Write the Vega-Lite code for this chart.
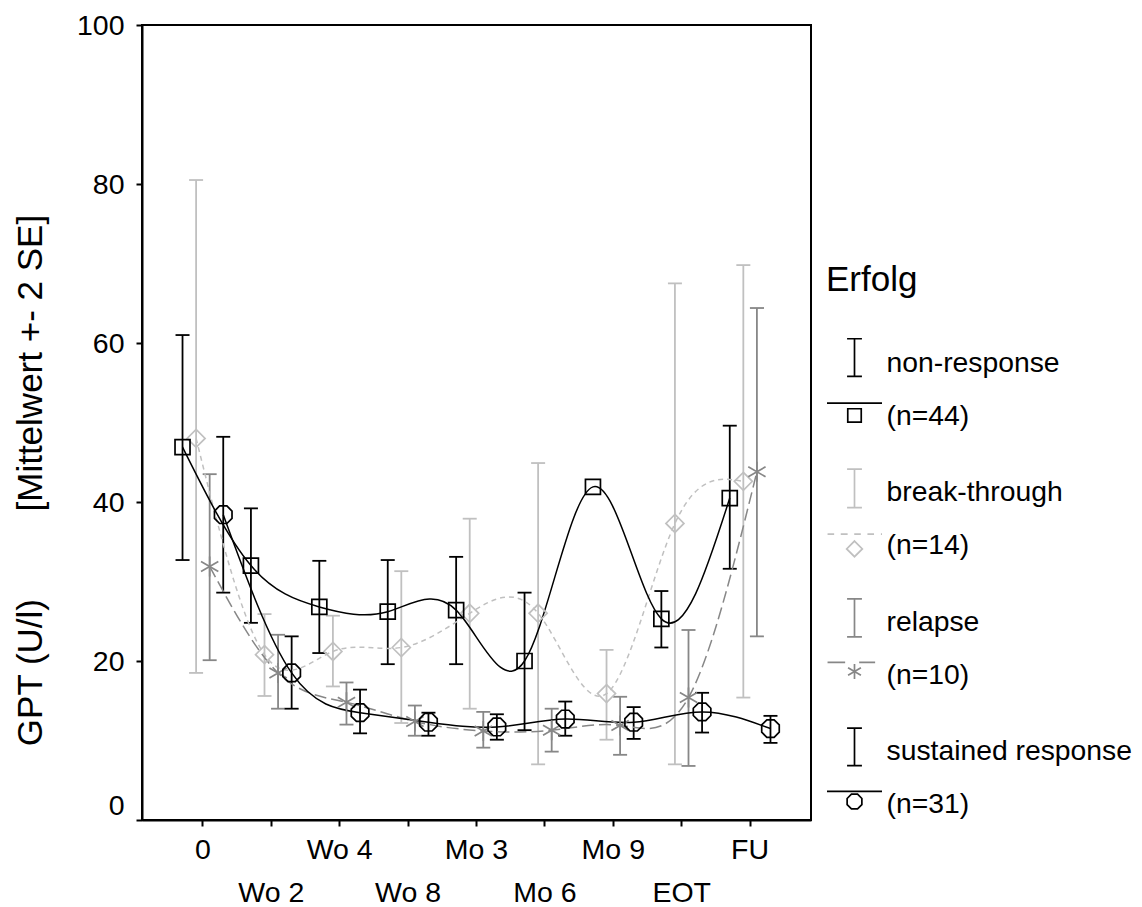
{
  "$schema": "https://vega.github.io/schema/vega-lite/v6.json",
  "width": 669,
  "height": 795,
  "autosize": "none",
  "padding": {"left": 142, "top": 25, "right": 331, "bottom": 87},
  "background": "white",
  "config": {
    "font": "Liberation Sans",
    "view": {"stroke": "black", "strokeWidth": 2},
    "style": {"guide-label": {"lineHeight": 53.7}},
    "axis": {
      "domainColor": "black", "domainWidth": 2, "tickColor": "black", "tickWidth": 2, "tickSize": 6,
      "labelColor": "black", "grid": false, "labelFont": "Liberation Sans", "titleFont": "Liberation Sans",
      "titleColor": "black", "titleFontWeight": "normal"
    },
    "legend": {
      "labelFont": "Liberation Sans", "titleFont": "Liberation Sans",
      "title": "Erfolg", "orient": "none", "legendX": 684, "legendY": 238, "padding": 0,
      "titleFontSize": 35, "titleFontWeight": "normal", "titleColor": "black", "titlePadding": 37,
      "labelFontSize": 28.3, "labelColor": "black", "labelLimit": 400, "labelOffset": 3.5,
      "rowPadding": 33, "symbolSize": 3025, "symbolStrokeWidth": 1.7
    }
  },
  "data": {
    "values": [
      {"time": "0", "group": "break-through", "mean": 48.0, "lo": 18.5, "hi": 80.5},
      {"time": "Wo 2", "group": "break-through", "mean": 20.8, "lo": 15.6, "hi": 25.9},
      {"time": "Wo 4", "group": "break-through", "mean": 21.2, "lo": 16.8, "hi": 25.7},
      {"time": "Wo 8", "group": "break-through", "mean": 21.7, "lo": 12.2, "hi": 31.3},
      {"time": "Mo 3", "group": "break-through", "mean": 26.0, "lo": 14.0, "hi": 37.9},
      {"time": "Mo 6", "group": "break-through", "mean": 26.0, "lo": 7.0, "hi": 44.9},
      {"time": "Mo 9", "group": "break-through", "mean": 15.9, "lo": 10.1, "hi": 21.4},
      {"time": "EOT", "group": "break-through", "mean": 37.3, "lo": 7.0, "hi": 67.5},
      {"time": "FU", "group": "break-through", "mean": 42.6, "lo": 15.4, "hi": 69.8},
      {"time": "0", "group": "relapse", "mean": 31.9, "lo": 20.1, "hi": 43.5},
      {"time": "Wo 2", "group": "relapse", "mean": 18.5, "lo": 14.0, "hi": 23.3},
      {"time": "Wo 4", "group": "relapse", "mean": 14.8, "lo": 12.0, "hi": 17.3},
      {"time": "Wo 8", "group": "relapse", "mean": 12.4, "lo": 10.6, "hi": 14.4},
      {"time": "Mo 3", "group": "relapse", "mean": 11.2, "lo": 9.1, "hi": 13.6},
      {"time": "Mo 6", "group": "relapse", "mean": 11.3, "lo": 8.6, "hi": 14.0},
      {"time": "Mo 9", "group": "relapse", "mean": 11.9, "lo": 8.2, "hi": 15.5},
      {"time": "EOT", "group": "relapse", "mean": 15.4, "lo": 6.8, "hi": 23.9},
      {"time": "FU", "group": "relapse", "mean": 43.8, "lo": 23.1, "hi": 64.4},
      {"time": "0", "group": "non-response", "mean": 46.9, "lo": 32.7, "hi": 61.0},
      {"time": "Wo 2", "group": "non-response", "mean": 32.0, "lo": 24.8, "hi": 39.2},
      {"time": "Wo 4", "group": "non-response", "mean": 26.8, "lo": 21.0, "hi": 32.6},
      {"time": "Wo 8", "group": "non-response", "mean": 26.2, "lo": 19.6, "hi": 32.7},
      {"time": "Mo 3", "group": "non-response", "mean": 26.4, "lo": 19.6, "hi": 33.1},
      {"time": "Mo 6", "group": "non-response", "mean": 20.0, "lo": 11.3, "hi": 28.6},
      {"time": "Mo 9", "group": "non-response", "mean": 41.9, "lo": null, "hi": null},
      {"time": "EOT", "group": "non-response", "mean": 25.3, "lo": 21.7, "hi": 28.8},
      {"time": "FU", "group": "non-response", "mean": 40.5, "lo": 31.6, "hi": 49.6},
      {"time": "0", "group": "sustained response", "mean": 38.4, "lo": 28.6, "hi": 48.2},
      {"time": "Wo 2", "group": "sustained response", "mean": 18.5, "lo": 14.0, "hi": 23.1},
      {"time": "Wo 4", "group": "sustained response", "mean": 13.5, "lo": 10.9, "hi": 16.4},
      {"time": "Wo 8", "group": "sustained response", "mean": 12.3, "lo": 10.6, "hi": 13.5},
      {"time": "Mo 3", "group": "sustained response", "mean": 11.7, "lo": 10.1, "hi": 13.3},
      {"time": "Mo 6", "group": "sustained response", "mean": 12.7, "lo": 10.6, "hi": 14.9},
      {"time": "Mo 9", "group": "sustained response", "mean": 12.3, "lo": 10.2, "hi": 14.2},
      {"time": "EOT", "group": "sustained response", "mean": 13.6, "lo": 11.0, "hi": 16.0},
      {"time": "FU", "group": "sustained response", "mean": 11.5, "lo": 9.7, "hi": 13.1}
    ]
  },
  "encoding": {
    "x": {
      "field": "time", "type": "ordinal",
      "sort": ["0", "Wo 2", "Wo 4", "Wo 8", "Mo 3", "Mo 6", "Mo 9", "EOT", "FU"],
      "scale": {"type": "band", "paddingInner": 0, "paddingOuter": 0.39},
      "axis": {
        "title": null, "labelAngle": 0, "labelFontSize": 28.5, "labelBaseline": "top", "labelOverlap": false,
        "tickSize": 6,
        "labelPadding": {"condition": {"test": "indexof(['Wo 2','Wo 8','Mo 6','EOT'], datum.value) >= 0", "value": 52}, "value": 9}
      }
    },
    "xOffset": {
      "field": "group", "type": "nominal",
      "sort": ["non-response", "break-through", "relapse", "sustained response"],
      "scale": {"type": "band", "paddingInner": 0, "paddingOuter": 0.52}
    },
    "stroke": {
      "field": "group", "type": "nominal",
      "scale": {"domain": ["non-response", "break-through", "relapse", "sustained response"], "range": ["#000000", "#c0c0c0", "#878787", "#000000"]},
      "legend": {
        "title": "Erfolg",
        "labelExpr": "datum.label === 'non-response' ? ['non-response', '(n=44)'] : datum.label === 'break-through' ? ['break-through', '(n=14)'] : datum.label === 'relapse' ? ['relapse', '(n=10)'] : ['sustained response', '(n=31)']"
      }
    }
  },
  "layer": [
    {
      "mark": {"type": "rule", "strokeWidth": 1.8},
      "encoding": {
        "y": {"field": "lo", "type": "quantitative", "scale": {"domain": [0, 100], "nice": false},
          "axis": {
            "values": [0, 20, 40, 60, 80, 100], "labelFontSize": 28.5, "labelPadding": 12, "tickSize": 6,
            "labelOffset": {"condition": {"test": "datum.value === 0", "value": -15}, "value": 0},
            "title": "GPT (U/l)\u00a0\u00a0\u00a0\u00a0\u00a0\u00a0\u00a0\u00a0\u00a0[Mittelwert +- 2 SE]",
            "titleFontSize": 35, "titleX": -101, "titleY": 455, "titleAngle": -90,
            "titleBaseline": "alphabetic", "titleAlign": "center"
          }
        },
        "y2": {"field": "hi"}
      }
    },
    {
      "mark": {"type": "point", "shape": "M-1,0L1,0", "size": 196, "filled": false, "strokeWidth": 1.8, "opacity": 1},
      "encoding": {"y": {"field": "lo", "type": "quantitative"}}
    },
    {
      "mark": {"type": "point", "shape": "M-1,0L1,0", "size": 196, "filled": false, "strokeWidth": 1.8, "opacity": 1},
      "encoding": {"y": {"field": "hi", "type": "quantitative"}}
    },
    {
      "transform": [{"filter": "datum.group === 'break-through'"}],
      "mark": {"type": "line", "interpolate": "natural", "strokeWidth": 1.5, "strokeDash": [5, 4]},
      "encoding": {"y": {"field": "mean", "type": "quantitative"}, "order": {"value": null}}
    },
    {
      "transform": [{"filter": "datum.group === 'relapse'"}],
      "mark": {"type": "line", "interpolate": "natural", "strokeWidth": 1.5, "strokeDash": [12, 5]},
      "encoding": {"y": {"field": "mean", "type": "quantitative"}, "order": {"value": null}}
    },
    {
      "transform": [{"filter": "datum.group === 'non-response' || datum.group === 'sustained response'"}],
      "mark": {"type": "line", "interpolate": "natural", "strokeWidth": 1.5},
      "encoding": {"y": {"field": "mean", "type": "quantitative"}, "order": {"value": null}}
    },
    {
      "transform": [{"filter": "datum.group === 'break-through'"}],
      "mark": {"type": "point", "shape": "M0,-1L1,0L0,1L-1,0Z", "size": 324, "filled": false, "strokeWidth": 1.7, "opacity": 1},
      "encoding": {"y": {"field": "mean", "type": "quantitative"}}
    },
    {
      "transform": [{"filter": "datum.group === 'relapse'"}],
      "mark": {"type": "point", "shape": "M0,-1L0,1M-0.866,-0.5L0.866,0.5M-0.866,0.5L0.866,-0.5", "size": 400, "filled": false, "strokeWidth": 1.7, "opacity": 1},
      "encoding": {"y": {"field": "mean", "type": "quantitative"}}
    },
    {
      "transform": [{"filter": "datum.group === 'non-response'"}],
      "mark": {"type": "point", "shape": "square", "size": 225, "filled": false, "strokeWidth": 1.7, "opacity": 1},
      "encoding": {"y": {"field": "mean", "type": "quantitative"}}
    },
    {
      "transform": [{"filter": "datum.group === 'sustained response'"}],
      "mark": {"type": "point", "shape": "M0.924,0.383L0.383,0.924L-0.383,0.924L-0.924,0.383L-0.924,-0.383L-0.383,-0.924L0.383,-0.924L0.924,-0.383Z", "size": 361, "filled": false, "strokeWidth": 1.7, "opacity": 1},
      "encoding": {"y": {"field": "mean", "type": "quantitative"}}
    },
    {
      "transform": [{"filter": "false"}],
      "mark": {"type": "point", "filled": false, "strokeWidth": 1.7, "opacity": 1},
      "encoding": {
        "y": {"field": "mean", "type": "quantitative"},
        "shape": {
          "field": "group", "type": "nominal",
          "scale": {
            "domain": ["non-response", "break-through", "relapse", "sustained response"],
            "range": [
              "M0,-0.9L0,0.47M-0.27,-0.9L0.27,-0.9M-0.27,0.47L0.27,0.47M-1,1.44L1,1.44M-0.245,1.645L0.245,1.645L0.245,2.135L-0.245,2.135Z",
              "M0,-0.85L0,0.55M-0.27,-0.85L0.27,-0.85M-0.27,0.55L0.27,0.55M-0.98,1.51L-0.74,1.51M-0.5,1.51L-0.25,1.51M-0.01,1.51L0.23,1.51M0.47,1.51L0.71,1.51M0.96,1.51L1,1.51M0,1.765L0.285,2.05L0,2.335L-0.285,2.05Z",
              "M0,-0.86L0,0.52M-0.27,-0.86L0.27,-0.86M-0.27,0.52L0.27,0.52M-0.98,1.45L-0.34,1.45M0.17,1.45L0.75,1.45M0,1.51L0,2.05M-0.234,1.645L0.234,1.915M-0.234,1.915L0.234,1.645",
              "M0,-0.85L0,0.51M-0.27,-0.85L0.27,-0.85M-0.27,0.51L0.27,0.51M-1,1.45L1,1.45M0.268,1.931L0.111,2.088L-0.111,2.088L-0.268,1.931L-0.268,1.709L-0.111,1.552L0.111,1.552L0.268,1.709Z"
            ]
          },
          "legend": {
            "title": "Erfolg",
            "labelExpr": "datum.label === 'non-response' ? ['non-response', '(n=44)'] : datum.label === 'break-through' ? ['break-through', '(n=14)'] : datum.label === 'relapse' ? ['relapse', '(n=10)'] : ['sustained response', '(n=31)']"
          }
        }
      }
    }
  ]
}
